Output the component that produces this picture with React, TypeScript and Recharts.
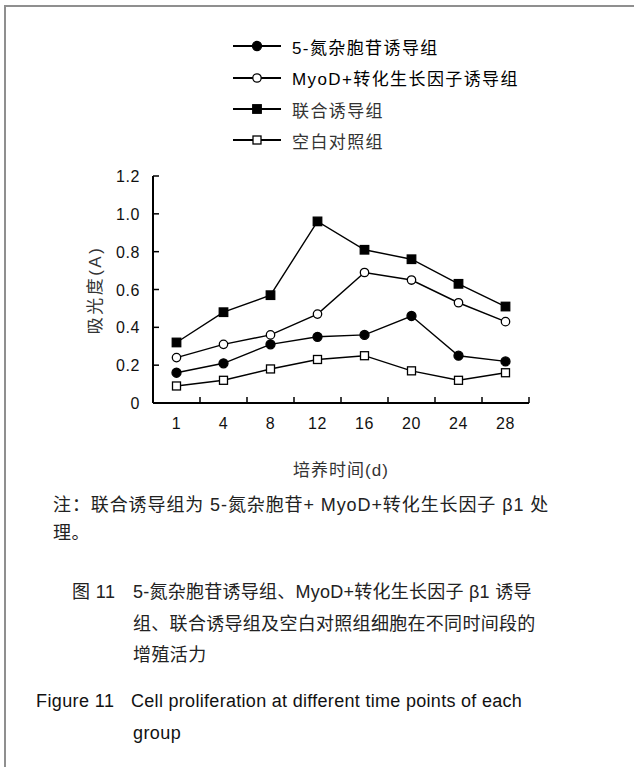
import React from 'react';
import { LineChart, Line, XAxis, YAxis, Legend } from 'recharts';

const DAYS = ['1', '4', '8', '12', '16', '20', '24', '28'];
const AZA = [0.16, 0.21, 0.31, 0.35, 0.36, 0.46, 0.25, 0.22];
const MYOD = [0.24, 0.31, 0.36, 0.47, 0.69, 0.65, 0.53, 0.43];
const COMBINED = [0.32, 0.48, 0.57, 0.96, 0.81, 0.76, 0.63, 0.51];
const BLANK = [0.09, 0.12, 0.18, 0.23, 0.25, 0.17, 0.12, 0.16];
const Y_TICKS = [0, 0.2, 0.4, 0.6, 0.8, 1.0, 1.2];

const SERIES_NAMES = ['5-氮杂胞苷诱导组', 'MyoD+转化生长因子诱导组', '联合诱导组', '空白对照组'];
const SERIES_KEYS = ['aza', 'myod', 'combined', 'blank'];
const SERIES_SHAPES = ['circle', 'circle', 'square', 'square'];
const SERIES_FILLED = [true, false, true, false];
const LEGEND_COLORS = ['#000', '#000', '#333', '#333'];

const X_TITLE = '培养时间(d)';
const Y_TITLE = '吸光度(A)';

const data = DAYS.map((d, i) => ({
  day: d,
  aza: AZA[i],
  myod: MYOD[i],
  combined: COMBINED[i],
  blank: BLANK[i],
}));

const LATIN = '"Liberation Sans", Arial, "Noto Sans CJK SC", sans-serif';

const CHART_W = 634;
const CHART_H = 500;
const MARGIN = { top: 176, right: 105, bottom: 57, left: 93 };
const Y_AXIS_W = 60;
const X_AXIS_H = 40;
const PLOT_W = CHART_W - MARGIN.left - Y_AXIS_W - MARGIN.right;

function Marker({ cx, cy, shape, filled }: any) {
  if (cx == null || cy == null) return null;
  const fill = filled ? '#000' : '#fff';
  if (shape === 'square') {
    const s = filled ? 8.5 : 8;
    return <rect x={cx - s / 2} y={cy - s / 2} width={s} height={s} fill={fill} stroke="#000" strokeWidth={1.3} />;
  }
  return <circle cx={cx} cy={cy} r={filled ? 4.5 : 4.2} fill={fill} stroke="#000" strokeWidth={1.3} />;
}

function XTick(props: any) {
  const { x, y, payload } = props;
  const band = PLOT_W / DAYS.length;
  return (
    <g>
      <line x1={x + band / 2} x2={x + band / 2} y1={y} y2={y - 6} stroke="#000" strokeWidth={1.5} />
      <text x={x} y={y + 26} textAnchor="middle" fontSize={16} letterSpacing={0.6} fontFamily={LATIN} fill="#111">
        {payload.value}
      </text>
    </g>
  );
}

function YTick(props: any) {
  const { x, y, payload } = props;
  const v = payload.value;
  const label = v === 0 ? '0' : v.toFixed(1);
  return (
    <g>
      <line x1={x} x2={x + 6} y1={y} y2={y} stroke="#000" strokeWidth={1.5} />
      <text x={x - 13} y={y + 6} textAnchor="end" fontSize={16} letterSpacing={0.6} fontFamily={LATIN} fill="#111">
        {label}
      </text>
    </g>
  );
}

function LegendContent() {
  const rowY = [46, 77.5, 109, 140];
  return (
    <div style={{ position: 'relative', width: 330, height: 130 }}>
      {SERIES_NAMES.map((name, i) => (
        <div key={name} style={{ position: 'absolute', left: 0, top: rowY[i] - 30 - 15, height: 30, display: 'flex', alignItems: 'center' }}>
          <svg width={52} height={30} style={{ display: 'block' }}>
            <line x1={3} x2={51} y1={15} y2={15} stroke="#000" strokeWidth={1.8} />
            <Marker cx={27} cy={15} shape={SERIES_SHAPES[i]} filled={SERIES_FILLED[i]} />
          </svg>
          <span style={{ marginLeft: 10, fontFamily: LATIN, fontSize: 17, letterSpacing: 1.4, color: LEGEND_COLORS[i], whiteSpace: 'nowrap' }}>
            {name}
          </span>
        </div>
      ))}
    </div>
  );
}

const textBase: React.CSSProperties = {
  position: 'absolute',
  whiteSpace: 'nowrap',
  fontFamily: LATIN,
  fontSize: 18,
  lineHeight: '24px',
  height: 24,
  color: '#1a1a1a',
};

function TextLine({ x, cy, children, spacing = 0.4, color }: any) {
  return (
    <div style={{ ...textBase, left: x, top: cy - 12, letterSpacing: spacing, color: color || textBase.color }}>{children}</div>
  );
}

export default function App() {
  return (
    <div style={{ position: 'absolute', left: 0, top: 0, width: 634, height: 767, overflow: 'hidden', background: '#fff' }}>
      <div style={{ position: 'absolute', left: 4, top: 5, width: 700, height: 900, border: '2px solid #8f8f8f' }} />
      <div style={{ position: 'absolute', left: 0, top: 0 }}>
        <LineChart width={CHART_W} height={CHART_H} data={data} margin={MARGIN}>
          <XAxis
            dataKey="day"
            type="category"
            scale="band"
            interval={0}
            height={X_AXIS_H}
            axisLine={{ stroke: '#000', strokeWidth: 2 }}
            tickLine={false}
            tickSize={0}
            tickMargin={0}
            tick={<XTick />}
          />
          <YAxis
            type="number"
            domain={[0, 1.2]}
            ticks={Y_TICKS}
            interval={0}
            width={Y_AXIS_W}
            axisLine={{ stroke: '#000', strokeWidth: 2 }}
            tickLine={false}
            tickSize={0}
            tickMargin={0}
            tick={<YTick />}
            allowDataOverflow
          />
          <Legend
            layout="horizontal"
            verticalAlign="middle"
            align="center"
            content={<LegendContent />}
            wrapperStyle={{ top: 30, left: 230, width: 330, height: 130 }}
          />
          {SERIES_KEYS.map((k, i) => (
            <Line
              key={k}
              dataKey={k}
              name={SERIES_NAMES[i]}
              stroke="#000"
              strokeWidth={1.4}
              isAnimationActive={false}
              dot={(p: any) => <Marker key={`${k}-${p.index}`} cx={p.cx} cy={p.cy} shape={SERIES_SHAPES[i]} filled={SERIES_FILLED[i]} />}
              activeDot={false}
            />
          ))}
        </LineChart>
      </div>
      <div
        style={{
          position: 'absolute',
          left: 93,
          top: 290,
          transform: 'translate(-50%, -50%) rotate(-90deg)',
          whiteSpace: 'nowrap',
          fontFamily: LATIN,
          fontSize: 17,
          letterSpacing: 2.5,
          color: '#333',
        }}
      >
        {Y_TITLE}
      </div>
      <div
        style={{
          position: 'absolute',
          left: 341,
          top: 468,
          transform: 'translate(-50%, -50%)',
          whiteSpace: 'nowrap',
          fontFamily: LATIN,
          fontSize: 17,
          letterSpacing: 1,
          color: '#333',
        }}
      >
        {X_TITLE}
      </div>
      <TextLine x={53} cy={505} color="#222" spacing={0.9}>注：联合诱导组为 5-氮杂胞苷+ MyoD+转化生长因子 β1 处</TextLine>
      <TextLine x={53} cy={533} color="#222">理。</TextLine>
      <TextLine x={72} cy={592} color="#222">图 11</TextLine>
      <TextLine x={133} cy={592} color="#222" spacing={0.25}>5-氮杂胞苷诱导组、MyoD+转化生长因子 β1 诱导</TextLine>
      <TextLine x={133} cy={624} color="#222" spacing={0.3}>组、联合诱导组及空白对照组细胞在不同时间段的</TextLine>
      <TextLine x={133} cy={655} color="#222">增殖活力</TextLine>
      <TextLine x={36} cy={701} color="#111">Figure 11</TextLine>
      <TextLine x={131} cy={701} color="#111" spacing={0.3}>Cell proliferation at different time points of each</TextLine>
      <TextLine x={133} cy={733} color="#111">group</TextLine>
    </div>
  );
}
